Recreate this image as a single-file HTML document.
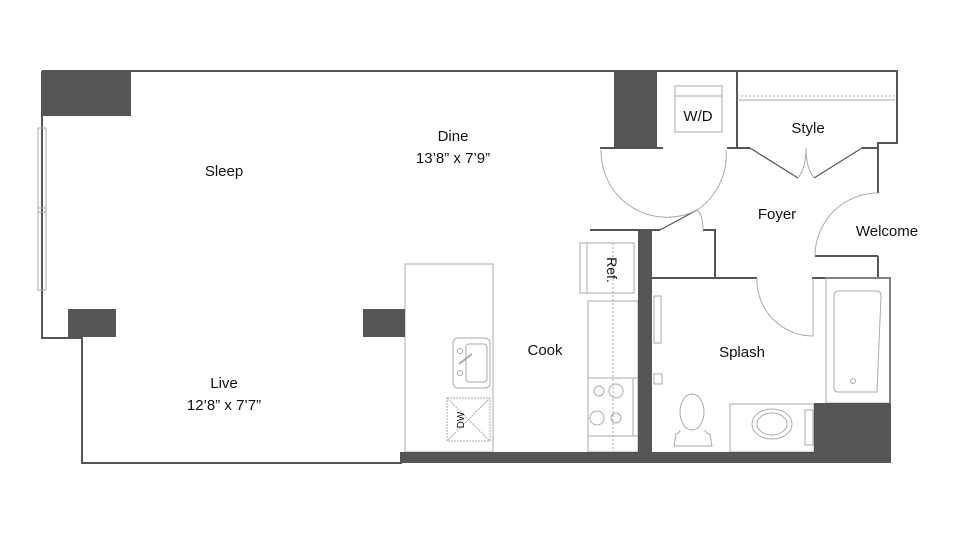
<!DOCTYPE html>
<html><head><meta charset="utf-8"><style>
html,body{margin:0;padding:0;background:#fff;}
svg{display:block;}
text{font-family:"Liberation Sans",sans-serif;font-size:15px;fill:#111;text-anchor:middle;}
</style></head><body>
<svg width="960" height="540" viewBox="0 0 960 540" xmlns="http://www.w3.org/2000/svg">
<g fill="none" stroke="#555" stroke-width="2">
<!-- outer walls -->
<path d="M42,71 H897 V143 H878 V193"/>
<path d="M878,256 V278 H890 V463"/>
<path d="M42,71 V338 H82 V463 H402"/>
<!-- closets -->
<path d="M737,71 V148 H750"/>
<path d="M862,148 H878"/>
<path d="M600,148 H663"/>
<path d="M727,148 H737"/>
<path d="M590,230 H660"/>
<path d="M703,230 H715 V278"/>
<path d="M652,278 H757"/>
<path d="M812,278 H890"/>
<path d="M815,256 H878"/>
</g>
<g fill="none" stroke="#555" stroke-width="1.2">
<path d="M750,148 L798,178"/>
<path d="M862,148 L814,178"/>
<path d="M660,230 L697,210"/>
</g>
<g fill="none" stroke="#aaa" stroke-width="1">
<path d="M601,150 A66,66 0 0 0 697,210"/>
<path d="M726,150 A66,66 0 0 1 697,210"/>
<path d="M798,178 Q806,168 806,148"/>
<path d="M814,178 Q806,168 806,148"/>
<path d="M697,210 Q703,215 703,230"/>
<path d="M878,193 A63,63 0 0 0 815,256"/>
<path d="M757,278 A56,56 0 0 0 813,336"/>
<path d="M813,278 V336"/>
<path d="M737,100 H895"/>
<path d="M737,96 H895" stroke-dasharray="2,2"/>
<!-- window -->
<rect x="38" y="128" width="8" height="162"/>
<path d="M38,208 H46 M38,212 H46"/>
<!-- W/D -->
<rect x="675" y="86" width="47" height="46"/>
<path d="M675,96 H722"/>
<!-- island -->
<rect x="405" y="264" width="88" height="188"/>
<rect x="453" y="338" width="37" height="50" rx="5"/>
<rect x="466" y="344" width="21" height="38" rx="3"/>
<circle cx="460" cy="351" r="2.5"/><circle cx="460" cy="373" r="2.5"/>
<path d="M459,364 L472,354" stroke-width="2"/>
<rect x="447" y="398" width="43" height="43" stroke-dasharray="2,1"/>
<path d="M447,398 L490,441 M490,398 L447,441" stroke-dasharray="2,1"/>
<!-- ref -->
<rect x="580" y="243" width="54" height="50"/>
<path d="M587,243 V293"/>
<!-- counter -->
<rect x="588" y="301" width="50" height="151"/>
<path d="M613,243 V452" stroke-dasharray="2,2"/>
<rect x="588" y="378" width="50" height="58"/>
<path d="M633,378 V436"/>
<circle cx="599" cy="391" r="5"/><circle cx="616" cy="391" r="7"/>
<circle cx="597" cy="418" r="7"/><circle cx="616" cy="418" r="5"/>
<!-- bathroom -->
<rect x="654" y="296" width="7" height="47"/>
<rect x="654" y="374" width="8" height="10"/>
<rect x="826" y="278" width="64" height="125"/>
<path d="M838,291 H876 Q881,291 881,296 L877,392 H838 Q834,392 834,388 V296 Q834,291 838,291 Z"/>
<circle cx="853" cy="381" r="2.5"/>
<rect x="730" y="404" width="84" height="48"/>
<ellipse cx="772" cy="424" rx="20" ry="15"/>
<ellipse cx="772" cy="424" rx="15" ry="11"/>
<rect x="805" y="410" width="8" height="35"/>
<ellipse cx="692" cy="412" rx="12" ry="18"/>
<path d="M680,430 Q680,433 676,434 L674,446 H712 L710,434 Q705,433 705,430"/>
</g>
<g fill="#555">
<rect x="42" y="71" width="89" height="45"/>
<rect x="614" y="71" width="43" height="77"/>
<rect x="68" y="309" width="48" height="28"/>
<rect x="363" y="309" width="42" height="28"/>
<rect x="638" y="230" width="14" height="222"/>
<rect x="400" y="452" width="490" height="11"/>
<rect x="814" y="403" width="76" height="60"/>
</g>
<text x="453" y="141">Dine</text>
<text x="453" y="163">13’8” x 7’9”</text>
<text x="224" y="176">Sleep</text>
<text x="224" y="388">Live</text>
<text x="224" y="410">12’8” x 7’7”</text>
<text x="545" y="355">Cook</text>
<text x="742" y="357">Splash</text>
<text x="777" y="219">Foyer</text>
<text x="887" y="236">Welcome</text>
<text x="808" y="133">Style</text>
<text x="698" y="121">W/D</text>
<text transform="translate(607,270) rotate(90)" style="font-size:14px">Ref.</text>
<text transform="translate(464,420) rotate(-90)" style="font-size:10px">DW</text>
</svg>
</body></html>
